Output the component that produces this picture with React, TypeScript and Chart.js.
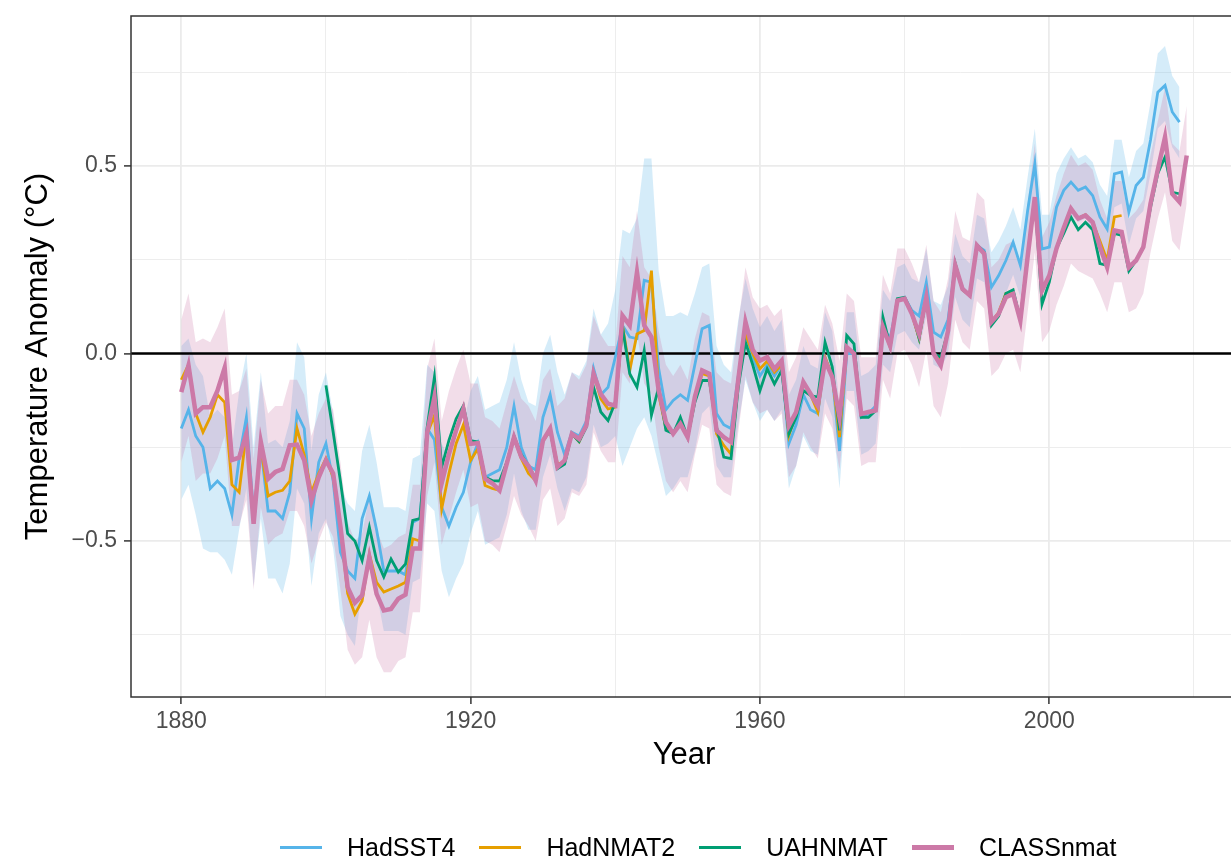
import React, { useEffect, useRef } from "react";
import { Chart, registerables } from "chart.js";

Chart.register(...registerables);

// ---------------- data ----------------
const START_HADSST4 = 1880;
const START_HADNMAT2 = 1880;
const START_UAHNMAT = 1900;
const START_CLASSNMAT = 1880;

// HadSST4, 1880-2018
const hadSST4 = [
  -0.2, -0.15, -0.22, -0.25, -0.36, -0.34, -0.36, -0.43, -0.28, -0.17,
  -0.43, -0.25, -0.42, -0.42, -0.44, -0.37, -0.16, -0.2, -0.44, -0.29,
  -0.24, -0.34, -0.53, -0.58, -0.6, -0.44, -0.38, -0.47, -0.58, -0.58,
  -0.58, -0.59, -0.45, -0.44, -0.2, -0.23, -0.41, -0.46, -0.41, -0.37,
  -0.29, -0.24, -0.33, -0.32, -0.31, -0.25, -0.14, -0.25, -0.3, -0.31,
  -0.17, -0.11, -0.21, -0.27, -0.21, -0.22, -0.18, -0.04, -0.11, -0.09,
  -0.01, 0.075, 0.044, 0.04, 0.195, 0.19, -0.04, -0.15, -0.125, -0.11,
  -0.125, -0.03, 0.066, 0.075, -0.16, -0.19, -0.2, -0.06, 0.06, -0.01,
  -0.06, -0.03, -0.06, -0.03, -0.24, -0.19, -0.11, -0.15, -0.16, -0.01,
  -0.06, -0.26, 0.0, 0.0, -0.17, -0.16, -0.14, 0.07, 0.04, 0.14,
  0.15, 0.115, 0.1, 0.19, 0.057, 0.044, 0.09, 0.235, 0.175, 0.155,
  0.288, 0.275, 0.177, 0.208, 0.248, 0.297, 0.235, 0.38, 0.506, 0.279,
  0.284, 0.39, 0.435, 0.457, 0.435, 0.444, 0.421, 0.364, 0.332, 0.479,
  0.484, 0.377, 0.448, 0.47, 0.57, 0.697, 0.715, 0.644, 0.617,
];
const hadSST4Upper = [
  0.02, 0.04, -0.03, -0.06, -0.17, -0.15, -0.17, -0.25, -0.1, 0.0,
  -0.25, -0.05, -0.24, -0.23, -0.25, -0.18, 0.03, -0.01, -0.26, -0.11,
  -0.05, -0.16, -0.35, -0.4, -0.42, -0.26, -0.19, -0.29, -0.41, -0.41,
  -0.41, -0.42, -0.28, -0.27, -0.03, -0.05, -0.24, -0.28, -0.23, -0.19,
  -0.1, -0.06, -0.15, -0.14, -0.13, -0.07, 0.03, -0.07, -0.13, -0.14,
  0.0, 0.05, -0.05, -0.11, -0.05, -0.06, -0.02, 0.12, 0.05, 0.08,
  0.17, 0.33, 0.32, 0.36, 0.52, 0.52, 0.22, 0.1, 0.1, 0.11,
  0.1, 0.16, 0.23, 0.24, 0.02, -0.03, -0.05, 0.09, 0.2, 0.12,
  0.07, 0.1, 0.06, 0.09, -0.11, -0.07, 0.02, -0.03, -0.04, 0.11,
  0.06, -0.14, 0.11, 0.11, -0.06, -0.05, -0.03, 0.17, 0.14, 0.23,
  0.24, 0.2, 0.19, 0.28, 0.14, 0.13, 0.18, 0.32, 0.26, 0.24,
  0.37, 0.36, 0.27, 0.3, 0.34, 0.39, 0.33, 0.47, 0.6, 0.37,
  0.37, 0.48, 0.52, 0.55, 0.52, 0.53, 0.51, 0.45, 0.42, 0.57,
  0.57, 0.47, 0.54, 0.56, 0.67, 0.8, 0.82, 0.74, 0.71,
];
const hadSST4Lower = [
  -0.39, -0.35, -0.43, -0.52, -0.53, -0.53, -0.55, -0.59, -0.47, -0.36,
  -0.62, -0.44, -0.6, -0.6, -0.64, -0.56, -0.36, -0.4, -0.62, -0.48,
  -0.44, -0.52, -0.7, -0.75, -0.78, -0.62, -0.56, -0.64, -0.74, -0.74,
  -0.74, -0.75, -0.61, -0.6, -0.4, -0.42, -0.58, -0.65, -0.6, -0.56,
  -0.48, -0.42, -0.51, -0.5, -0.49, -0.43, -0.32, -0.42, -0.47, -0.47,
  -0.33, -0.27, -0.36, -0.42, -0.36, -0.37, -0.33, -0.19, -0.25, -0.24,
  -0.22, -0.3, -0.25, -0.2, -0.17, -0.22, -0.3, -0.38, -0.36, -0.33,
  -0.33, -0.26, -0.16, -0.14, -0.3, -0.33, -0.33, -0.19, -0.07, -0.13,
  -0.18, -0.15, -0.18, -0.15, -0.36, -0.3, -0.22, -0.26, -0.27, -0.12,
  -0.17, -0.36, -0.1, -0.1, -0.27, -0.26, -0.24, -0.03, -0.05, 0.05,
  0.06, 0.03, 0.01, 0.1, -0.03, -0.04, 0.0, 0.15, 0.09, 0.07,
  0.2, 0.19, 0.09, 0.12, 0.16, 0.21, 0.15, 0.29, 0.42, 0.19,
  0.2, 0.3, 0.35, 0.37, 0.35, 0.36, 0.33, 0.28, 0.25, 0.39,
  0.4, 0.29, 0.36, 0.38, 0.48, 0.6, 0.62, 0.55, 0.52,
];

// HadNMAT2, 1880-2010
const hadNMAT2 = [
  -0.07, -0.03, -0.16, -0.21, -0.17, -0.11, -0.13, -0.35, -0.37, -0.21,
  -0.45, -0.25, -0.38, -0.37, -0.365, -0.34, -0.2, -0.27, -0.37, -0.32,
  -0.28, -0.33, -0.46, -0.64, -0.695, -0.66, -0.535, -0.61, -0.636, -0.628,
  -0.62, -0.61, -0.494, -0.5, -0.214, -0.165, -0.414, -0.32, -0.24, -0.19,
  -0.285, -0.254, -0.352, -0.36, -0.365, -0.29, -0.225, -0.28, -0.32, -0.339,
  -0.233, -0.205, -0.294, -0.29, -0.214, -0.235, -0.192, -0.054, -0.121, -0.148,
  -0.143, 0.075, -0.045, 0.052, 0.061, 0.221, -0.11, -0.2, -0.214, -0.188,
  -0.223, -0.125, -0.054, -0.06, -0.214, -0.245, -0.268, -0.08, 0.052, 0.0,
  -0.041, -0.02, -0.05, -0.03, -0.219, -0.16, -0.08, -0.11, -0.156, -0.01,
  -0.06, -0.223, 0.017, 0.0, -0.161, -0.156, -0.152, 0.07, 0.017, 0.141,
  0.146, 0.106, 0.04, 0.15, 0.0, -0.02, 0.06, 0.235, 0.17, 0.155,
  0.288, 0.266, 0.084, 0.11, 0.16, 0.16, 0.09, 0.257, 0.417, 0.17,
  0.21, 0.28, 0.33, 0.386, 0.36, 0.37, 0.35, 0.3, 0.248, 0.364,
  0.368,
];

// UAHNMAT, 1900-2018
const uahNMAT = [
  -0.085, -0.21, -0.34, -0.48, -0.5, -0.552, -0.463, -0.552, -0.596, -0.548,
  -0.583, -0.561, -0.445, -0.44, -0.196, -0.063, -0.303, -0.232, -0.174, -0.139,
  -0.232, -0.236, -0.33, -0.339, -0.34, -0.29, -0.22, -0.27, -0.3, -0.333,
  -0.232, -0.205, -0.307, -0.295, -0.214, -0.235, -0.196, -0.09, -0.156, -0.179,
  -0.13, 0.07, -0.054, -0.09, 0.008, -0.165, -0.09, -0.205, -0.214, -0.17,
  -0.223, -0.13, -0.072, -0.072, -0.196, -0.276, -0.28, -0.09, 0.03, -0.03,
  -0.099, -0.041, -0.081, -0.045, -0.214, -0.17, -0.099, -0.112, -0.116, 0.03,
  -0.036, -0.205, 0.048, 0.026, -0.17, -0.17, -0.152, 0.097, 0.02, 0.146,
  0.15, 0.11, 0.04, 0.15, 0.0, -0.01, 0.06, 0.24, 0.17, 0.155,
  0.29, 0.27, 0.075, 0.1, 0.16, 0.17, 0.09, 0.26, 0.41, 0.132,
  0.19, 0.28, 0.32, 0.364, 0.33, 0.35, 0.33, 0.24, 0.235, 0.32,
  0.315, 0.22, 0.248, 0.284, 0.39, 0.48, 0.524, 0.43, 0.426,
];

// CLASSnmat, 1880-2019
const classNMAT = [
  -0.103, -0.032, -0.16, -0.143, -0.143, -0.099, -0.038, -0.284, -0.278, -0.214,
  -0.454, -0.236, -0.334, -0.316, -0.308, -0.245, -0.243, -0.285, -0.392, -0.33,
  -0.285, -0.32, -0.46, -0.623, -0.665, -0.645, -0.543, -0.641, -0.685, -0.681,
  -0.654, -0.643, -0.52, -0.52, -0.21, -0.116, -0.346, -0.268, -0.205, -0.148,
  -0.241, -0.239, -0.334, -0.346, -0.365, -0.294, -0.223, -0.276, -0.3, -0.339,
  -0.232, -0.2, -0.303, -0.285, -0.214, -0.228, -0.192, -0.054, -0.108, -0.134,
  -0.139, 0.101, 0.075, 0.217, 0.075, 0.044, -0.099, -0.183, -0.214, -0.188,
  -0.223, -0.116, -0.045, -0.054, -0.205, -0.223, -0.236, -0.07, 0.084, 0.01,
  -0.019, -0.01, -0.041, -0.019, -0.192, -0.156, -0.076, -0.108, -0.139, -0.019,
  -0.063, -0.17, 0.017, 0.0, -0.161, -0.156, -0.152, 0.07, 0.02, 0.141,
  0.146, 0.106, 0.052, 0.15, 0.0, -0.032, 0.06, 0.235, 0.172, 0.155,
  0.288, 0.266, 0.084, 0.106, 0.15, 0.159, 0.088, 0.257, 0.417, 0.168,
  0.208, 0.28, 0.335, 0.386, 0.36, 0.368, 0.35, 0.284, 0.23, 0.328,
  0.324, 0.23, 0.248, 0.284, 0.4, 0.49, 0.577, 0.426, 0.404, 0.528,
];
const classNMATUpper = [
  0.09, 0.16, 0.03, 0.04, 0.03, 0.07, 0.12, -0.11, -0.1, -0.04,
  -0.28, -0.07, -0.16, -0.14, -0.14, -0.07, -0.07, -0.11, -0.22, -0.16,
  -0.12, -0.15, -0.29, -0.45, -0.5, -0.48, -0.38, -0.47, -0.52, -0.51,
  -0.49, -0.48, -0.35, -0.35, -0.04, 0.04, -0.18, -0.1, -0.04, 0.01,
  -0.08, -0.08, -0.17, -0.18, -0.2, -0.13, -0.06, -0.12, -0.14, -0.18,
  -0.07, -0.04, -0.14, -0.12, -0.05, -0.07, -0.03, 0.1, 0.05, 0.02,
  0.02, 0.26, 0.23, 0.38, 0.23, 0.2, 0.06, -0.03, -0.06, -0.03,
  -0.07, 0.04, 0.11, 0.1, -0.05, -0.07, -0.08, 0.08, 0.23, 0.15,
  0.12, 0.13, 0.1, 0.12, -0.05, -0.01, 0.07, 0.04, 0.01, 0.13,
  0.08, -0.02, 0.16, 0.14, -0.01, -0.01, -0.01, 0.21, 0.16, 0.28,
  0.28, 0.24, 0.19, 0.29, 0.14, 0.11, 0.2, 0.38, 0.31, 0.3,
  0.43, 0.41, 0.23, 0.25, 0.29, 0.3, 0.23, 0.4, 0.56, 0.31,
  0.35, 0.42, 0.48, 0.53, 0.5, 0.51, 0.49, 0.41, 0.36, 0.46,
  0.46, 0.36, 0.38, 0.41, 0.53, 0.62, 0.71, 0.56, 0.54, 0.66,
];
const classNMATLower = [
  -0.29, -0.22, -0.34, -0.32, -0.32, -0.28, -0.22, -0.46, -0.46, -0.39,
  -0.63, -0.41, -0.51, -0.49, -0.48, -0.42, -0.42, -0.46, -0.56, -0.5,
  -0.45, -0.49, -0.63, -0.79, -0.83, -0.81, -0.71, -0.81, -0.85, -0.85,
  -0.82, -0.81, -0.69, -0.69, -0.38, -0.29, -0.51, -0.44, -0.37, -0.31,
  -0.41, -0.4, -0.5, -0.51, -0.53, -0.46, -0.38, -0.43, -0.46, -0.5,
  -0.39, -0.36, -0.46, -0.44, -0.37, -0.38, -0.35, -0.21, -0.26, -0.29,
  -0.29, -0.05, -0.08, 0.06, -0.08, -0.11, -0.25, -0.34, -0.37, -0.34,
  -0.37, -0.27, -0.19, -0.2, -0.35, -0.37, -0.38, -0.21, -0.06, -0.13,
  -0.16, -0.15, -0.18, -0.16, -0.33, -0.3, -0.21, -0.25, -0.28, -0.16,
  -0.2, -0.31, -0.12, -0.14, -0.3, -0.29, -0.29, -0.07, -0.12, 0.0,
  0.01, -0.03, -0.09, 0.01, -0.14, -0.17, -0.08, 0.09, 0.03, 0.01,
  0.14, 0.12, -0.06, -0.04, 0.0, 0.01, -0.05, 0.11, 0.27, 0.03,
  0.06, 0.13, 0.18, 0.24, 0.22, 0.21, 0.2, 0.16, 0.11, 0.19,
  0.19, 0.11, 0.12, 0.16, 0.27, 0.36, 0.43, 0.3, 0.275, 0.4,
];

const xTickValues = [1880, 1900, 1920, 1940, 1960, 1980, 2000, 2020];
const xLabelValues = [1880, 1920, 1960, 2000];
const yTickValues = [-0.75, -0.5, -0.25, 0, 0.25, 0.5, 0.75];
const yLabelValues = [-0.5, 0, 0.5];
const yLabelTexts = ["\u22120.5", "0.0", "0.5"];

const seriesNames = ["HadSST4", "HadNMAT2", "UAHNMAT", "CLASSnmat"];
const seriesColors = ["#56B4E9", "#E69F00", "#009E73", "#CC79A7"];

// ---------------- helpers ----------------
const FONT = '"Liberation Sans", Arial, Helvetica, sans-serif';
const toPoints = (vals: number[], start: number) =>
  vals.map((y, i) => ({ x: start + i, y }));

const isMajorY = (v: number) => yLabelValues.some((m) => Math.abs(m - v) < 1e-9);
const isMajorX = (v: number) => xLabelValues.includes(Math.round(v));

const panelBorder = {
  id: "panelBorder",
  afterDatasetsDraw(chart: any) {
    const { ctx, chartArea: a } = chart;
    ctx.save();
    ctx.strokeStyle = "#333333";
    ctx.lineWidth = 1.5;
    ctx.strokeRect(a.left, a.top, a.right - a.left, a.bottom - a.top);
    ctx.restore();
  },
};

const CANVAS_W = 1250;
const CANVAS_H = 859;

export default function App() {
  const canvasRef = useRef<HTMLCanvasElement | null>(null);

  useEffect(() => {
    if (!canvasRef.current) return;
    const line = (label: string, data: any[], color: string, width: number) => ({
      label,
      data,
      borderColor: color,
      backgroundColor: color,
      borderWidth: width,
      pointRadius: 0,
      fill: false,
      tension: 0,
    });
    const bound = (data: any[], fill: any, bg: string) => ({
      label: "",
      data,
      borderWidth: 0,
      borderColor: "rgba(0,0,0,0)",
      backgroundColor: bg,
      pointRadius: 0,
      fill,
      tension: 0,
    });

    const chart = new Chart(canvasRef.current, {
      type: "line",
      data: {
        datasets: [
          line(seriesNames[3], toPoints(classNMAT, START_CLASSNMAT), seriesColors[3], 4.5),
          line(seriesNames[2], toPoints(uahNMAT, START_UAHNMAT), seriesColors[2], 2.8),
          line(seriesNames[1], toPoints(hadNMAT2, START_HADNMAT2), seriesColors[1], 2.8),
          line(seriesNames[0], toPoints(hadSST4, START_HADSST4), seriesColors[0], 2.8),
          line("zero", [{ x: 1873.05, y: 0 }, { x: 2025.95, y: 0 }], "#000000", 2.5),
          bound(toPoints(classNMATUpper, START_CLASSNMAT), "+1", "rgba(204,121,167,0.25)"),
          bound(toPoints(classNMATLower, START_CLASSNMAT), false, "rgba(204,121,167,0.25)"),
          bound(toPoints(hadSST4Upper, START_HADSST4), "+1", "rgba(86,180,233,0.25)"),
          bound(toPoints(hadSST4Lower, START_HADSST4), false, "rgba(86,180,233,0.25)"),
        ] as any,
      },
      options: {
        animation: false,
        responsive: false,
        maintainAspectRatio: false,
        events: [],
        layout: { padding: { left: 0, right: 13, top: 16, bottom: 85 } },
        plugins: {
          legend: { display: false },
          tooltip: { enabled: false },
        },
        scales: {
          x: {
            type: "linear",
            min: 1873.05,
            max: 2025.95,
            afterBuildTicks: (s: any) => {
              s.ticks = xTickValues.map((value) => ({ value }));
            },
            afterFit: (s: any) => {
              s.height = 77;
              s.paddingLeft = 0;
              s.paddingRight = 0;
            },
            ticks: {
              autoSkip: false,
              maxRotation: 0,
              padding: 4,
              color: "#4D4D4D",
              font: { family: FONT, size: 23 },
              callback: (v: any) => (isMajorX(Number(v)) ? String(v) : ""),
            },
            grid: {
              color: "#EBEBEB",
              lineWidth: (c: any) => (isMajorX(c.tick?.value) ? 1.8 : 0.9),
              tickLength: 7,
              tickWidth: 1.5,
              tickColor: (c: any) => (isMajorX(c.tick?.value) ? "#333333" : "rgba(0,0,0,0)"),
            },
            border: { display: false },
            title: {
              display: true,
              text: "Year",
              color: "#000000",
              font: { family: FONT, size: 31 },
              padding: { top: 0, bottom: 0 },
            },
          },
          y: {
            type: "linear",
            min: -0.916,
            max: 0.9,
            afterBuildTicks: (s: any) => {
              s.ticks = yTickValues.map((value) => ({ value }));
            },
            afterFit: (s: any) => {
              s.width = 131;
              s.paddingTop = 0;
              s.paddingBottom = 0;
            },
            ticks: {
              autoSkip: false,
              padding: 7,
              color: "#4D4D4D",
              font: { family: FONT, size: 23 },
              callback: (v: any) => {
                const i = yLabelValues.findIndex((m) => Math.abs(m - Number(v)) < 1e-9);
                return i >= 0 ? yLabelTexts[i] : "";
              },
            },
            grid: {
              color: "#EBEBEB",
              lineWidth: (c: any) => (isMajorY(c.tick?.value) ? 1.8 : 0.9),
              tickLength: 7,
              tickWidth: 1.5,
              tickColor: (c: any) => (isMajorY(c.tick?.value) ? "#333333" : "rgba(0,0,0,0)"),
            },
            border: { display: false },
            title: {
              display: true,
              text: "Temperature Anomaly (\u00B0C)",
              color: "#000000",
              font: { family: FONT, size: 31 },
              padding: { top: 20, bottom: 0 },
            },
          },
        },
      } as any,
      plugins: [panelBorder],
    });
    return () => chart.destroy();
  }, []);

  const legendItems = seriesNames.map((name, i) => ({
    name,
    color: seriesColors[i],
    thick: i === 3 ? 5 : 3,
  }));

  return (
    <div
      style={{
        position: "fixed",
        left: 0,
        top: 0,
        width: 1231,
        height: 859,
        overflow: "hidden",
        background: "#ffffff",
      }}
    >
      <canvas
        ref={canvasRef}
        width={CANVAS_W}
        height={CANVAS_H}
        style={{ width: CANVAS_W, height: CANVAS_H, display: "block" }}
      />
      <div
        style={{
          position: "absolute",
          left: 280,
          top: 831,
          height: 32,
          display: "flex",
          alignItems: "center",
          fontFamily: FONT,
          fontSize: 25,
          color: "#000000",
          whiteSpace: "nowrap",
        }}
      >
        {legendItems.map((it) => (
          <div key={it.name} style={{ display: "flex", alignItems: "center", marginRight: 24 }}>
            <div style={{ width: 42, height: it.thick, background: it.color, marginRight: 25 }} />
            <span>{it.name}</span>
          </div>
        ))}
      </div>
    </div>
  );
}
